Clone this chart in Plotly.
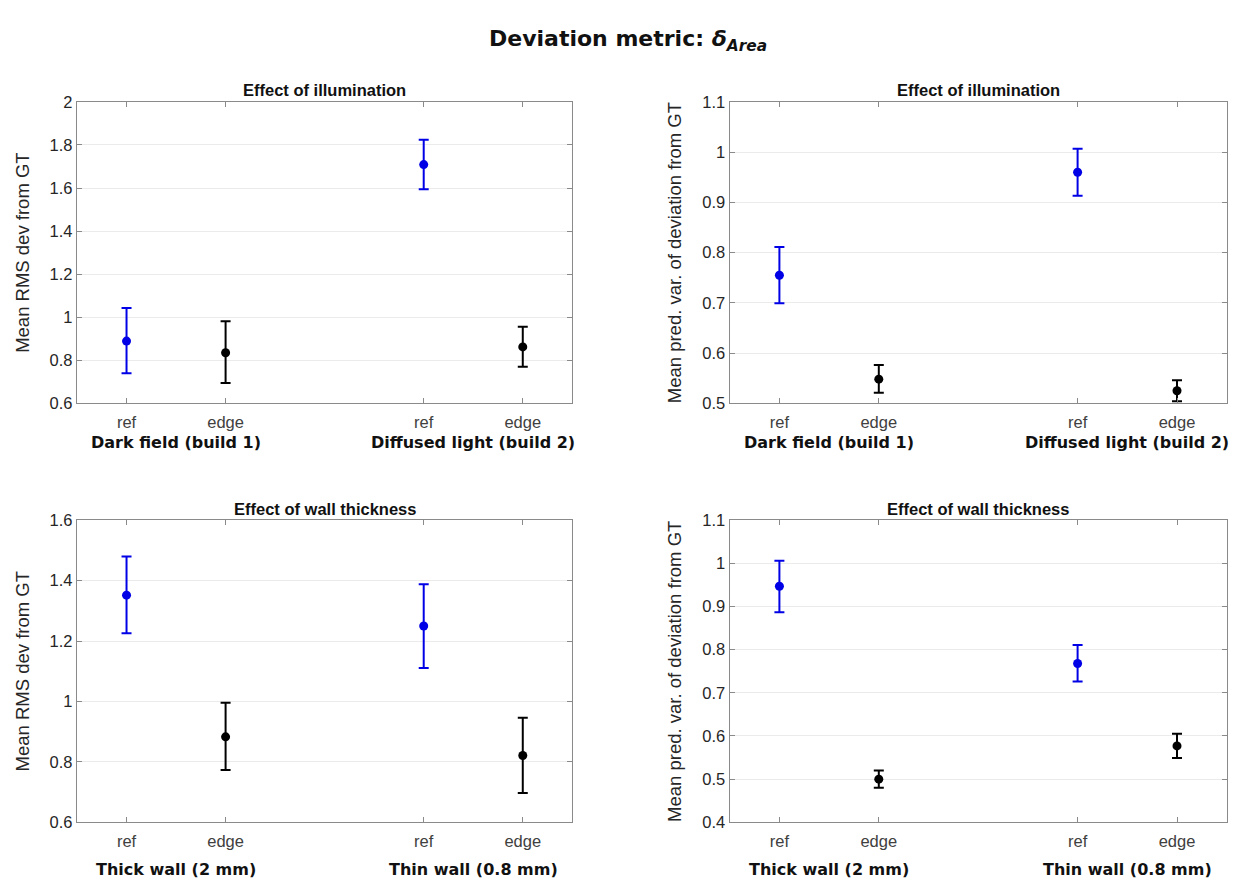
import plotly.graph_objects as go

# ---------------- data ----------------
categories = ["ref", "edge", "ref", "edge"]
cat_pos = [1, 2, 4, 5]

groups_illum = ["Dark field (build 1)", "Diffused light (build 2)"]
groups_wall = ["Thick wall (2 mm)", "Thin wall (0.8 mm)"]

# Top-left: illumination, mean RMS dev
rms_illum = [0.889, 0.835, 1.709, 0.862]
rms_illum_hi = [1.043, 0.981, 1.824, 0.955]
rms_illum_lo = [0.739, 0.694, 1.594, 0.770]

# Top-right: illumination, mean pred. var.
var_illum = [0.755, 0.548, 0.960, 0.525]
var_illum_hi = [0.811, 0.576, 1.007, 0.546]
var_illum_lo = [0.699, 0.521, 0.913, 0.504]

# Bottom-left: wall thickness, mean RMS dev
rms_wall = [1.352, 0.883, 1.250, 0.821]
rms_wall_hi = [1.480, 0.996, 1.388, 0.946]
rms_wall_lo = [1.226, 0.773, 1.111, 0.697]

# Bottom-right: wall thickness, mean pred. var.
var_wall = [0.947, 0.500, 0.768, 0.577]
var_wall_hi = [1.006, 0.520, 0.811, 0.605]
var_wall_lo = [0.887, 0.480, 0.726, 0.549]

yticks_rms_illum = [0.6, 0.8, 1.0, 1.2, 1.4, 1.6, 1.8, 2.0]
yticks_var_illum = [0.5, 0.6, 0.7, 0.8, 0.9, 1.0, 1.1]
yticks_rms_wall = [0.6, 0.8, 1.0, 1.2, 1.4, 1.6]
yticks_var_wall = [0.4, 0.5, 0.6, 0.7, 0.8, 0.9, 1.0, 1.1]

title_main = "Deviation metric: "
subtitle_illum = "Effect of illumination"
subtitle_wall = "Effect of wall thickness"
ylabel_rms = "Mean RMS dev from GT"
ylabel_var = "Mean pred. var. of deviation from GT"

# ---------------- style ----------------
W, H = 1239, 885
BLUE = "#0000e6"
BLACK = "#000000"
AXIS = "#8a8a8a"
GRID = "#ebebeb"
TXT = "#262626"
FONT = "Liberation Sans, Arial, sans-serif"
BOLDFONT = "DejaVu Sans, sans-serif"

def px_x(p):
    return p / W

def px_y(p):
    return 1 - p / H

xdom = [[px_x(69), px_x(564.3)], [px_x(721.7), px_x(1218.7)]]
ydom = [[px_y(394.3), px_y(86.7)], [px_y(822), px_y(513.7)]]

panels = [
    (0, 0, rms_illum, rms_illum_hi, rms_illum_lo, yticks_rms_illum, ylabel_rms, subtitle_illum, groups_illum),
    (0, 1, var_illum, var_illum_hi, var_illum_lo, yticks_var_illum, ylabel_var, subtitle_illum, groups_illum),
    (1, 0, rms_wall, rms_wall_hi, rms_wall_lo, yticks_rms_wall, ylabel_rms, subtitle_wall, groups_wall),
    (1, 1, var_wall, var_wall_hi, var_wall_lo, yticks_var_wall, ylabel_var, subtitle_wall, groups_wall),
]

fig = go.Figure()
layout = dict(
    width=W, height=H,
    margin=dict(l=0, r=0, t=0, b=0),
    paper_bgcolor="white", plot_bgcolor="white",
    showlegend=False,
    font=dict(family=FONT, color=TXT),
)
annotations = []

def fmt(v):
    s = ("%.1f" % v)
    if s.endswith(".0"):
        s = s[:-2]
    return s

for i, (row, col, vals, hi, lo, yt, ylab, sub, grp) in enumerate(panels):
    k = i + 1
    xa = "x" if k == 1 else "x%d" % k
    ya = "y" if k == 1 else "y%d" % k
    xkey = "xaxis" if k == 1 else "xaxis%d" % k
    ykey = "yaxis" if k == 1 else "yaxis%d" % k

    for idxs, color in (([0, 2], BLUE), ([1, 3], BLACK)):
        xs = [cat_pos[j] for j in idxs]
        ys = [vals[j] for j in idxs]
        ep = [hi[j] - vals[j] for j in idxs]
        em = [vals[j] - lo[j] for j in idxs]
        fig.add_trace(go.Scatter(
            x=xs, y=ys, mode="markers", xaxis=xa, yaxis=ya,
            marker=dict(color=color, size=9),
            error_y=dict(type="data", symmetric=False, array=ep, arrayminus=em,
                         color=color, thickness=2, width=5),
        ))

    layout[xkey] = dict(
        domain=xdom[col], anchor=ya, range=[0.5, 5.5],
        tickmode="array", tickvals=cat_pos, ticktext=categories,
        ticks="inside", ticklen=5, tickcolor=AXIS, tickwidth=1,
        showline=True, linecolor=AXIS, linewidth=1.3, mirror="ticks",
        showgrid=False, zeroline=False,
        tickfont=dict(size=16.5, color="#404040", family=FONT),
        ticklabelstandoff=4,
    )
    layout[ykey] = dict(
        domain=ydom[row], anchor=xa, range=[yt[0], yt[-1]],
        tickmode="array", tickvals=yt, ticktext=[fmt(v) for v in yt],
        ticks="inside", ticklen=5, tickcolor=AXIS, tickwidth=1,
        showline=True, linecolor=AXIS, linewidth=1.3, mirror="ticks",
        showgrid=True, gridcolor=GRID, gridwidth=1, zeroline=False,
        tickfont=dict(size=16.5, color=TXT, family=FONT),
        title=dict(text=ylab, font=dict(size=18.5, color=TXT, family=FONT), standoff=15),
    )

    annotations.append(dict(
        text="<b>" + sub + "</b>", xref="paper", yref="paper",
        x=(xdom[col][0] + xdom[col][1]) / 2,
        y=px_y(75 if row == 0 else 502.7),
        xanchor="center", yanchor="middle", showarrow=False,
        font=dict(size=16.5, color="#111111", family=FONT),
    ))
    gy = px_y(434 if row == 0 else 870)
    for g, gx in zip(grp, [(cat_pos[0] + cat_pos[1]) / 2, (cat_pos[2] + cat_pos[3]) / 2]):
        annotations.append(dict(
            text="<b>" + g + "</b>", xref=xa, yref="paper",
            x=gx, y=gy, xanchor="center", yanchor="middle", showarrow=False,
            font=dict(size=16, color="#111111", family=BOLDFONT),
        ))

annotations.append(dict(
    text="<b>" + title_main + "<i>δ</i><sub><i>Area</i></sub></b>",
    xref="paper", yref="paper", x=0.5, y=px_y(24),
    xanchor="center", yanchor="middle", showarrow=False,
    font=dict(size=22, color="#111111", family=BOLDFONT),
))

layout["annotations"] = annotations
fig.update_layout(**layout)
fig.write_html("out.html")
